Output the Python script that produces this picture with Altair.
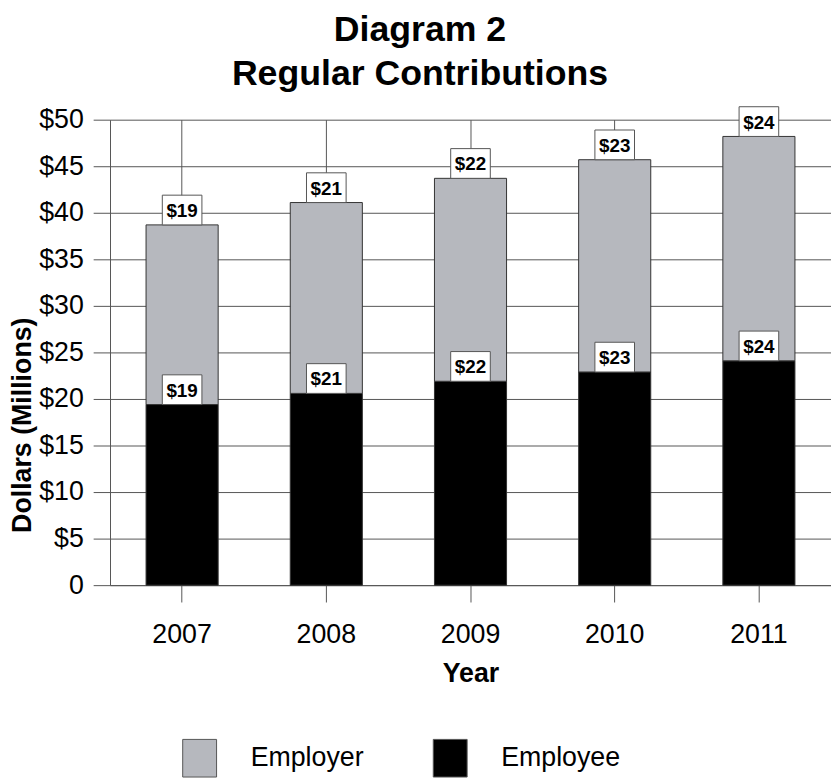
import altair as alt
import pandas as pd

years = ["2007", "2008", "2009", "2010", "2011"]
employee = [19.4, 20.6, 21.9, 22.9, 24.1]
employer = [19.3, 20.5, 21.8, 22.8, 24.1]
series = ["Employer", "Employee"]
colors = ["#b6b8be", "#000000"]
y_ticks = [0, 5, 10, 15, 20, 25, 30, 35, 40, 45, 50]

rows = []
for i, yr in enumerate(years):
    rows.append({"year": yr, "type": "Employee", "value": employee[i], "order": 0})
    rows.append({"year": yr, "type": "Employer", "value": employer[i], "order": 1})
df = pd.DataFrame(rows)

FONT = "Liberation Sans"
GRID = "#555555"

base = alt.Chart(df).transform_stack(
    stack="value", groupby=["year"], sort=[alt.SortField("order")], as_=["y0", "y1"]
)

xenc = alt.X(
    "year:N",
    title="Year",
    sort=years,
    scale=alt.Scale(paddingInner=0.5, paddingOuter=0.25),
    axis=alt.Axis(
        labelAngle=0, tickSize=17, labelPadding=20, grid=True, gridColor=GRID,
        tickColor=GRID, domainColor=GRID, labelFontSize=27, titleFontSize=27,
        titleFontWeight="bold", titlePadding=13,
    ),
)
yscale = alt.Scale(domain=[0, 50], nice=False)
yaxis = alt.Axis(
    values=y_ticks, tickSize=17, labelPadding=10, grid=True, gridColor=GRID,
    tickColor=GRID, domainColor=GRID, labelFontSize=27, titleFontSize=27,
    titleFontWeight="bold", titlePadding=2, titleY=308,
    labelExpr="datum.value == 0 ? '0' : '$' + datum.value",
)

bars = base.mark_bar(stroke="#333333", strokeWidth=1).encode(
    x=xenc,
    y=alt.Y("y0:Q", title="Dollars (Millions)", scale=yscale, axis=yaxis),
    y2="y1:Q",
    color=alt.Color(
        "type:N",
        scale=alt.Scale(domain=series, range=colors),
        legend=alt.Legend(
            title=None, orient="none", legendX=71, legendY=625,
            direction="horizontal", symbolType="M-0.9,-1H0.9V1H-0.9Z",
            symbolSize=1444, symbolStrokeColor="#555555", symbolStrokeWidth=1,
            labelFontSize=27, labelFont=FONT, labelOffset=32, columnPadding=67,
            padding=0, symbolOpacity=1, labelColor="black",
        ),
    ),
)

boxes = base.mark_point(
    shape="M-1,-0.75H1V0.75H-1Z", size=1600, filled=True, fill="white",
    stroke="#555555", strokeWidth=1, opacity=1, yOffset=-15,
).encode(
    x=alt.X("year:N", title="Year", sort=years),
    y=alt.Y("y1:Q", title="Dollars (Millions)"),
)

labels = base.mark_text(
    font=FONT, fontSize=19, fontWeight="bold", baseline="middle",
    yOffset=-14, color="black",
).encode(
    x=alt.X("year:N", title="Year", sort=years),
    y=alt.Y("y1:Q", title="Dollars (Millions)"),
    text=alt.Text("value:Q", format="$.0f"),
)

chart = alt.layer(bars, boxes, labels).properties(
    width=728,
    height=470,
    padding={"left": 0, "top": 0, "right": 0, "bottom": 0},
    title=alt.Title(
        ["Diagram 2", "Regular Contributions"], fontSize=36, font=FONT,
        fontWeight="bold", anchor="middle", frame="bounds", lineHeight=44,
        offset=12, color="black",
    ),
).configure_view(stroke=None).configure_axis(
    labelFont=FONT, titleFont=FONT, labelColor="black", titleColor="black"
)

chart.save("out.html", embed_options={"renderer": "svg", "actions": False})
